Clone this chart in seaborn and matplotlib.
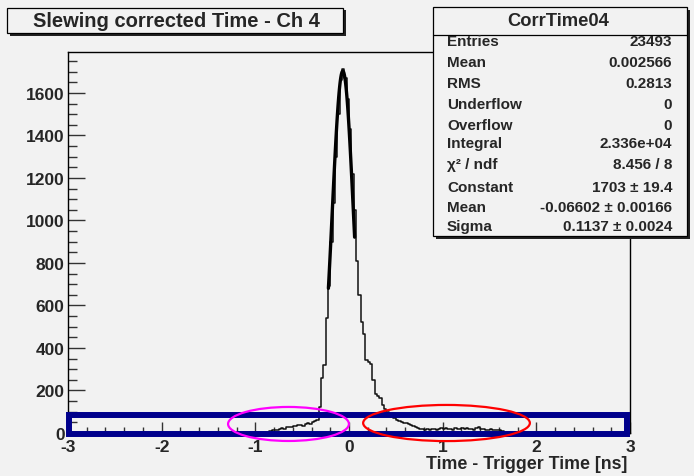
import numpy as np
import pandas as pd
import matplotlib
matplotlib.use("Agg")
import matplotlib.pyplot as plt
import seaborn as sns
from matplotlib.patches import Rectangle, Ellipse
from matplotlib.ticker import MultipleLocator

# ---------------- data ----------------
hist_range = (-3.0, 3.0)
n_bins = 240
first_filled_edge = -0.85  # left edge of first non-empty bin

left_tail = [10, 12, 15, 14, 20, 22, 19, 26, 30, 27, 33, 31, 36, 38, 35, 42, 46, 44, 50, 55, 60]
left_flank = [120, 260, 320, 540, 690]
peak = [900, 1080, 1300, 1500, 1660, 1715, 1670, 1570, 1430, 1220, 1050]
right_flank = [807, 648, 520, 467, 345, 335, 326, 250, 184, 172, 165, 130, 112, 100]
right_tail = [90, 78, 70, 62, 58, 52, 48, 45, 40, 38, 33, 27, 25, 20, 18]
far_tail = [16, 19, 15, 17, 20, 16, 18, 22, 17, 24, 19, 21, 16, 23, 20, 18, 22, 17,
            25, 19, 21, 15, 24, 27, 20, 19, 16, 14, 17, 12, 14, 13, 15, 8]

fit_const, fit_mean, fit_sigma = 1703.0, -0.06602, 0.1137
fit_range = (-0.22, 0.06)

title = "Slewing corrected Time - Ch 4"
xlabel = "Time - Trigger Time [ns]"
stats_name = "CorrTime04"
stats_labels = ["Entries", "Mean", "RMS", "Underflow", "Overflow", "Integral",
                "\u03c7\u00b2 / ndf", "Constant", "Mean", "Sigma"]
stats_values = ["23493", "0.002566", "0.2813", "0", "0", "2.336e+04",
                "8.456 / 8", "1703 \u00b1 19.4", "-0.06602 \u00b1 0.00166", "0.1137 \u00b1 0.0024"]

# ---------------- build histogram table ----------------
edges = np.linspace(hist_range[0], hist_range[1], n_bins + 1)
bw = (hist_range[1] - hist_range[0]) / n_bins
centers = 0.5 * (edges[:-1] + edges[1:])
filled = left_tail + left_flank + peak + right_flank + right_tail + far_tail
full = np.zeros(n_bins)
i0 = int(round((first_filled_edge - hist_range[0]) / bw))
full[i0:i0 + len(filled)] = filled
df = pd.DataFrame({"time": centers, "n": full})

xs = np.linspace(fit_range[0], fit_range[1], 80)
fit_df = pd.DataFrame({"time": xs,
                       "f": fit_const * np.exp(-0.5 * ((xs - fit_mean) / fit_sigma) ** 2)})

# ---------------- style ----------------
sns.set_theme(style="white")
bg = "#f2f2f2"
plt.rcParams["font.family"] = ["Liberation Sans", "DejaVu Sans"]
plt.rcParams["font.weight"] = "bold"
plt.rcParams["axes.unicode_minus"] = False

W, H = 694, 477
fig = plt.figure(figsize=(W / 100, H / 100), dpi=100, facecolor=bg)
fx = lambda px: px / W
fy = lambda py: 1 - py / H

ax_l, ax_r, ax_t, ax_b = 68, 630, 52.5, 434
ax = fig.add_axes([fx(ax_l), fy(ax_b), (ax_r - ax_l) / W, (ax_b - ax_t) / H])
ax.set_facecolor(bg)

sns.histplot(data=df, x="time", weights="n", binwidth=bw, binrange=hist_range,
             element="step", fill=False, color="#111111", linewidth=1.1, ax=ax)
sns.lineplot(data=fit_df, x="time", y="f", color="black", linewidth=2.4, ax=ax)

ax.set_xlim(*hist_range)
ax.set_ylim(0, 1795)
ax.set_xlabel("")
ax.set_ylabel("")
for s in ax.spines.values():
    s.set_color("black")
    s.set_linewidth(1.0)
    s.set_visible(True)

ax.xaxis.set_major_locator(MultipleLocator(1))
ax.xaxis.set_minor_locator(MultipleLocator(0.2))
ax.yaxis.set_major_locator(MultipleLocator(200))
ax.yaxis.set_minor_locator(MultipleLocator(50))
ax.tick_params(axis="x", which="major", direction="in", length=8, width=1, color="#333333",
               labelsize=12.5, pad=4.5, bottom=True, top=False)
ax.tick_params(axis="x", which="minor", direction="in", length=4, width=1, color="#333333",
               bottom=True, top=False)
ax.tick_params(axis="y", which="major", direction="in", length=12.5, width=1, color="#333333",
               labelsize=12.5, pad=2.5, left=True, right=False)
ax.tick_params(axis="y", which="minor", direction="in", length=6.5, width=1, color="#333333",
               left=True, right=False)
for lab in ax.get_xticklabels() + ax.get_yticklabels():
    lab.set_fontweight("bold")

# overlays (annotations in the image)
ax.add_patch(Rectangle((-2.99, -2.4), 2.973 + 2.99, 87.4, fill=False, edgecolor="#00008c",
                       linewidth=4.3, clip_on=False, zorder=10))
ax.add_patch(Ellipse((-0.646, 42.5), 1.29, 160, fill=False, edgecolor="#ff00ff",
                     linewidth=1.6, clip_on=False, zorder=11))
ax.add_patch(Ellipse((1.041, 47), 1.78, 170, fill=False, edgecolor="#ff0000",
                     linewidth=1.6, clip_on=False, zorder=11))

# x label
fig.text(fx(627), fy(465), xlabel, ha="right", va="center", fontsize=12.8, fontweight="bold")

# title box
def box(x0, y0, x1, y1, shadow=2.5):
    fig.add_artist(Rectangle((fx(x0 + shadow), fy(y1 + shadow)), (x1 - x0) / W, (y1 - y0) / H,
                             transform=fig.transFigure, facecolor="#222222", edgecolor="none",
                             zorder=20))
    fig.add_artist(Rectangle((fx(x0), fy(y1)), (x1 - x0) / W, (y1 - y0) / H,
                             transform=fig.transFigure, facecolor=bg, edgecolor="black",
                             linewidth=0.9, zorder=21))

box(7, 9, 343, 34)
fig.text(fx(176), fy(21.5), title, ha="center", va="center", fontsize=14.5,
         fontweight="bold", zorder=22)

# stats box
box(433, 8, 687, 237)
fig.text(fx(558), fy(21.5), stats_name, ha="center", va="center", fontsize=13.2,
         fontweight="bold", zorder=22)
fig.add_artist(plt.Line2D([fx(433), fx(687)], [fy(36), fy(36)], transform=fig.transFigure,
                          color="black", linewidth=0.9, zorder=22))
row_y = [42.5, 63.5, 84, 105, 126, 144, 165, 188, 208, 227]
for lab, val, yy in zip(stats_labels, stats_values, row_y):
    fig.text(fx(447), fy(yy), lab, ha="left", va="center", fontsize=11,
             fontweight="bold", zorder=22)
    fig.text(fx(672), fy(yy), val, ha="right", va="center", fontsize=11,
             fontweight="bold", zorder=22)

fig.savefig("out.png", dpi=100, facecolor=bg)
